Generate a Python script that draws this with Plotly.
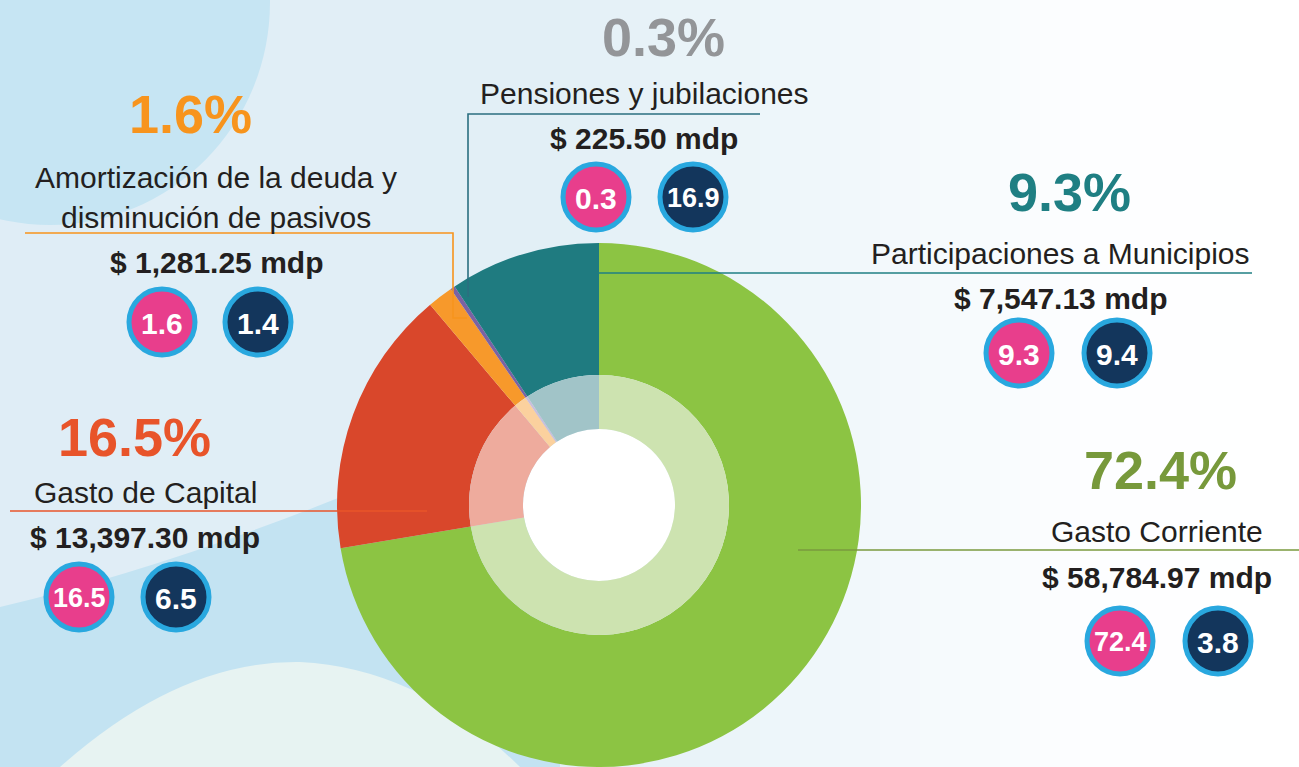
import plotly.graph_objects as go

W, H = 1299, 767

# ---------------- data ----------------
categories = ["Gasto Corriente", "Gasto de Capital",
              "Amortización de la deuda y<br>disminución de pasivos",
              "Pensiones y jubilaciones", "Participaciones a Municipios"]
amount_mdp = [58784.97, 13397.30, 1281.25, 225.50, 7547.13]
share_pct = [72.4, 16.5, 1.6, 0.3, 9.3]
badge_second = [3.8, 6.5, 1.4, 16.9, 9.4]

# ---------------- styles ----------------
outer_colors = ["#8cc443", "#d9472b", "#f7992b", "#7b62a3", "#1f7b80"]
inner_colors = ["#cde3b0", "#eeab9d", "#fbd19e", "#c9bedb", "#a1c4c8"]
pct_colors = ["#77993b", "#e8542a", "#f7941d", "#939598", "#1f7f83"]
line_colors = ["#7a9a3e", "#e8542a", "#f7941d", "#2b6f80", "#1f7f83"]
TXT = "#231f20"
REG = "Liberation Sans, Arial, sans-serif"

# layout positions in pixels (x, y)
pct_pos = [(1160, 470), (134, 437), (190, 114), (663, 37), (1069, 192)]
label_pos = [(1157, 531), (145, 492), (216, 177), (644, 93), (1060, 253)]
label_step = 40
amount_pos = [(1157, 577), (145, 537), (216, 262), (644, 138), (1060, 298)]
badge1_pos = [(1120, 641), (79, 597), (162, 322), (596, 197), (1019, 353)]
badge2_pos = [(1218, 641), (176, 597), (258, 322), (693, 197), (1117, 353)]
leader_paths = [
    [(798, 550), (1299, 550)],
    [(10, 511), (427, 511)],
    [(25, 233), (453, 233), (453, 318), (467, 318)],
    [(760, 114), (468, 114), (468, 297)],
    [(1252, 273), (598, 273)],
]

CX, CY, R_OUT, R_IN, R_HOLE = 599, 505, 262, 130, 76


def px_dom(cx, cy, r):
    return dict(x=[(cx - r) / W, (cx + r) / W],
                y=[max(0, (H - cy - r) / H), min(1, (H - cy + r) / H)])


fig = go.Figure()

# outer ring
fig.add_trace(go.Pie(
    labels=categories, values=amount_mdp, sort=False, direction="clockwise",
    rotation=0, hole=R_IN / R_OUT, textinfo="none", hoverinfo="label+value",
    marker=dict(colors=outer_colors, line=dict(width=0)),
    domain=px_dom(CX, CY, R_OUT), showlegend=False))
# inner lighter ring
fig.add_trace(go.Pie(
    labels=categories, values=amount_mdp, sort=False, direction="clockwise",
    rotation=0, hole=R_HOLE / R_IN, textinfo="none", hoverinfo="label+value",
    marker=dict(colors=inner_colors, line=dict(width=0)),
    domain=px_dom(CX, CY, R_IN), showlegend=False))

# badges
bx = [p[0] for p in badge1_pos] + [p[0] for p in badge2_pos]
by = [p[1] for p in badge1_pos] + [p[1] for p in badge2_pos]
btxt = [f"{v:.1f}" for v in share_pct] + [f"{v:.1f}" for v in badge_second]
bcol = ["#e83e8c"] * len(share_pct) + ["#13365c"] * len(badge_second)
fig.add_trace(go.Scatter(
    x=bx, y=by, mode="markers", hoverinfo="text", text=btxt,
    marker=dict(size=66, color=bcol, line=dict(color="#29a8df", width=5)),
    showlegend=False))

annotations = []
for t, x, y in zip(btxt, bx, by):
    annotations.append(dict(
        x=x, y=y + 1, text=f"<b>{t}</b>", showarrow=False, xanchor="center", yanchor="middle",
        font=dict(family=REG, size=27 if len(t) > 3 else 30, color="white")))

for i, cat in enumerate(categories):
    px, py = pct_pos[i]
    annotations.append(dict(x=px, y=py, text=f"<b>{share_pct[i]:.1f}%</b>", showarrow=False,
                            xanchor="center", yanchor="middle",
                            font=dict(family=REG, size=54, color=pct_colors[i])))
    lines = cat.split("<br>")
    lx, ly = label_pos[i]
    for k, ln in enumerate(lines):
        annotations.append(dict(x=lx, y=ly + k * label_step, text=ln, showarrow=False,
                                xanchor="center", yanchor="middle",
                                font=dict(family=REG, size=30, color=TXT)))
    ax, ay = amount_pos[i]
    annotations.append(dict(x=ax, y=ay, text=f"<b>$ {amount_mdp[i]:,.2f} mdp</b>", showarrow=False,
                            xanchor="center", yanchor="middle",
                            font=dict(family=REG, size=30, color=TXT)))

shapes = []


def hexmix(c1, c2, t):
    a = [int(c1[i:i + 2], 16) for i in (1, 3, 5)]
    b = [int(c2[i:i + 2], 16) for i in (1, 3, 5)]
    return "#" + "".join(f"{round(a[j] + (b[j] - a[j]) * t):02x}" for j in range(3))


stops = [(0, "#dfedf6"), (550, "#e2eff6"), (850, "#f1f8fb"), (1100, "#fdfeff"), (1299, "#ffffff")]
step = 20
for x0 in range(0, W, step):
    xm = x0 + step / 2
    col = stops[-1][1]
    for (s0, c0), (s1, c1) in zip(stops[:-1], stops[1:]):
        if s0 <= xm <= s1:
            col = hexmix(c0, c1, (xm - s0) / (s1 - s0))
            break
    shapes.append(dict(type="rect", xref="x", yref="y", x0=x0, x1=x0 + step + 1, y0=0, y1=H,
                       fillcolor=col, line=dict(width=0), layer="below"))

# decorative background shapes
shapes.append(dict(type="circle", xref="x", yref="y", x0=-170, x1=270, y0=-220, y1=225,
                   fillcolor="#c6e5f3", line=dict(width=0), layer="below"))
shapes.append(dict(type="path", xref="x", yref="y",
                   path="M 0,607 Q 260,545 560,400 L 560,767 L 0,767 Z",
                   fillcolor="#c3e3f2", line=dict(width=0), layer="below"))
shapes.append(dict(type="path", xref="x", yref="y",
                   path="M 60,767 Q 180,660 300,662 Q 420,668 520,767 Z",
                   fillcolor="#e7f3f2", line=dict(width=0), layer="below"))
# white center
shapes.append(dict(type="circle", xref="x", yref="y", x0=CX - R_HOLE, x1=CX + R_HOLE,
                   y0=CY - R_HOLE, y1=CY + R_HOLE, fillcolor="white", line=dict(width=0), layer="below"))

# leader lines (above the pie)
for pts, col in zip(leader_paths, line_colors):
    d = "M " + " L ".join(f"{x},{y}" for x, y in pts)
    shapes.append(dict(type="path", xref="x", yref="y", path=d,
                       line=dict(color=col, width=1.6), layer="above"))

fig.update_layout(
    width=W, height=H, margin=dict(l=0, r=0, t=0, b=0),
    paper_bgcolor="white", plot_bgcolor="rgba(0,0,0,0)",
    xaxis=dict(range=[0, W], visible=False, fixedrange=True),
    yaxis=dict(range=[H, 0], visible=False, fixedrange=True),
    annotations=annotations, shapes=shapes, showlegend=False,
)

fig.write_html("out.html", config={"displayModeBar": False},
               post_script="document.body.style.margin='0';document.body.style.overflow='hidden';")
